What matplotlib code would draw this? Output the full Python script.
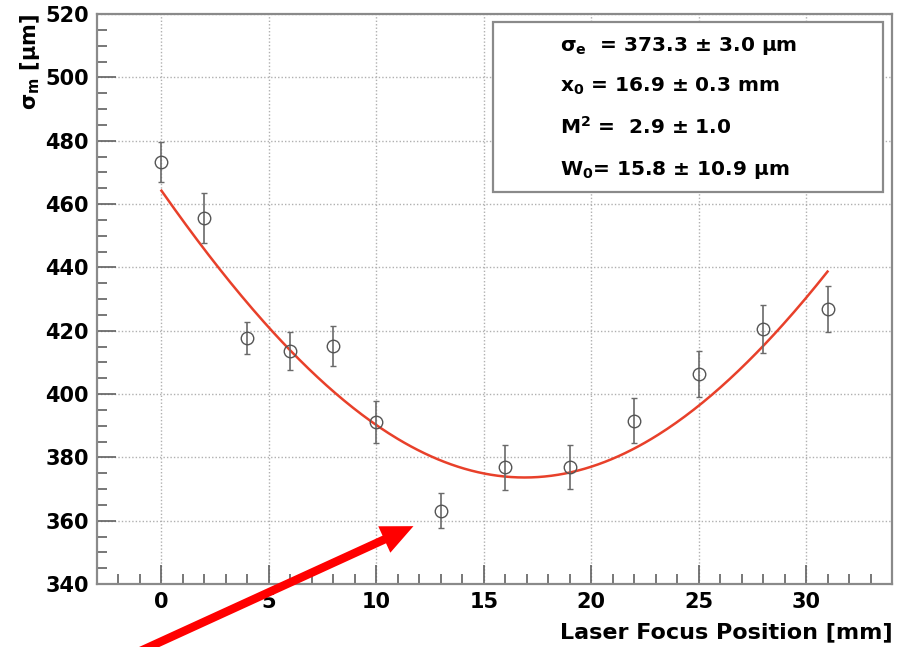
import matplotlib
matplotlib.use('Agg')
import matplotlib.pyplot as plt
import numpy as np
from matplotlib.patches import Rectangle, FancyArrowPatch
from matplotlib.ticker import MultipleLocator

plt.rcParams['font.family'] = 'DejaVu Sans'
plt.rcParams['mathtext.default'] = 'regular'

# Messwerte
focus_pos = [0, 2, 4, 6, 8, 10, 13, 16, 19, 22, 25, 28, 31]
sigma_m = [473.3, 455.6, 417.7, 413.6, 415.2, 391.2, 363.2, 376.8, 377.0, 391.6, 406.4, 420.6, 426.8]
sigma_err = [6.3, 8.0, 5.0, 6.0, 6.3, 6.6, 5.5, 7.0, 7.0, 7.0, 7.3, 7.6, 7.3]

# Fitparameter
sigma_e = 373.3
x0 = 16.9
m2 = 2.9
w0 = 15.8
lam_um = 0.279  # effektive Wellenlaenge, passend zur gezeichneten Kurve

fit_lines = [
    r'$\sigma_e$  = 373.3 ± 3.0 µm',
    r'x$_0$ = 16.9 ± 0.3 mm',
    r'M$^2$ =  2.9 ± 1.0',
    r'W$_0$= 15.8 ± 10.9 µm',
]

W, H = 904, 647
fig = plt.figure(figsize=(W / 100, H / 100), dpi=100)
ax = fig.add_axes([97 / W, 1 - 584 / H, (892 - 97) / W, (584 - 14) / H])

ax.set_xlim(-3, 34)
ax.set_ylim(340, 520)
ax.xaxis.set_major_locator(MultipleLocator(5))
ax.xaxis.set_minor_locator(MultipleLocator(1))
ax.yaxis.set_major_locator(MultipleLocator(20))
ax.yaxis.set_minor_locator(MultipleLocator(5))

ax.grid(True, which='major', linestyle=(0, (1, 1.5)), color='#b0b0b0', linewidth=1.0)
ax.tick_params(which='both', direction='in', top=False, right=False, color='#606060', width=1.2)
ax.tick_params(which='major', length=14, labelsize=15, pad=6)
ax.tick_params(which='minor', length=7)
for lab in ax.get_xticklabels() + ax.get_yticklabels():
    lab.set_fontweight('bold')
for s in ax.spines.values():
    s.set_color('#8a8a8a')
    s.set_linewidth(1.6)

# Fitkurve
zr = np.pi * w0 ** 2 / (m2 * lam_um) / 1000.0
xf = np.linspace(0, 31, 300)
yf = np.sqrt(sigma_e ** 2 + w0 ** 2 * (1 + ((xf - x0) / zr) ** 2))
ax.plot(xf, yf, color='#e8402a', linewidth=1.8, zorder=3)

# Messpunkte
ax.errorbar(focus_pos, sigma_m, yerr=sigma_err, fmt='o', ms=9, mfc='none',
            mec='#555555', mew=1.0, ecolor='#6a6a6a', elinewidth=1.2,
            capsize=2, capthick=1.2, zorder=4)

# Fitbox
ax.add_patch(Rectangle((493 / W, 1 - 192 / H), 390 / W, 170 / H, transform=fig.transFigure,
                       facecolor='white', edgecolor='#8a8a8a', linewidth=1.6, zorder=5))
for i, line in enumerate(fit_lines):
    yc = [46, 86, 127, 170][i]
    fig.text(560 / W, 1 - yc / H, line, fontsize=14.5, fontweight='bold',
             ha='left', va='center', zorder=6)

# Achsentitel
fig.text(30 / W, 1 - 14 / H, r'$\sigma_m$ [µm]', rotation=90, fontsize=15,
         fontweight='bold', ha='center', va='top')
fig.text(893 / W, 1 - 632 / H, 'Laser Focus Position [mm]', fontsize=16,
         fontweight='bold', ha='right', va='center')

# roter Pfeil
arrow = FancyArrowPatch((135 / W, -0.01), (416 / W, 1 - 525 / H), transform=fig.transFigure,
                        arrowstyle='simple,head_width=3.8,head_length=4.2,tail_width=1.1',
                        mutation_scale=5.5, color='red', linewidth=0, zorder=10)
fig.add_artist(arrow)

fig.savefig('out.png', dpi=100)
